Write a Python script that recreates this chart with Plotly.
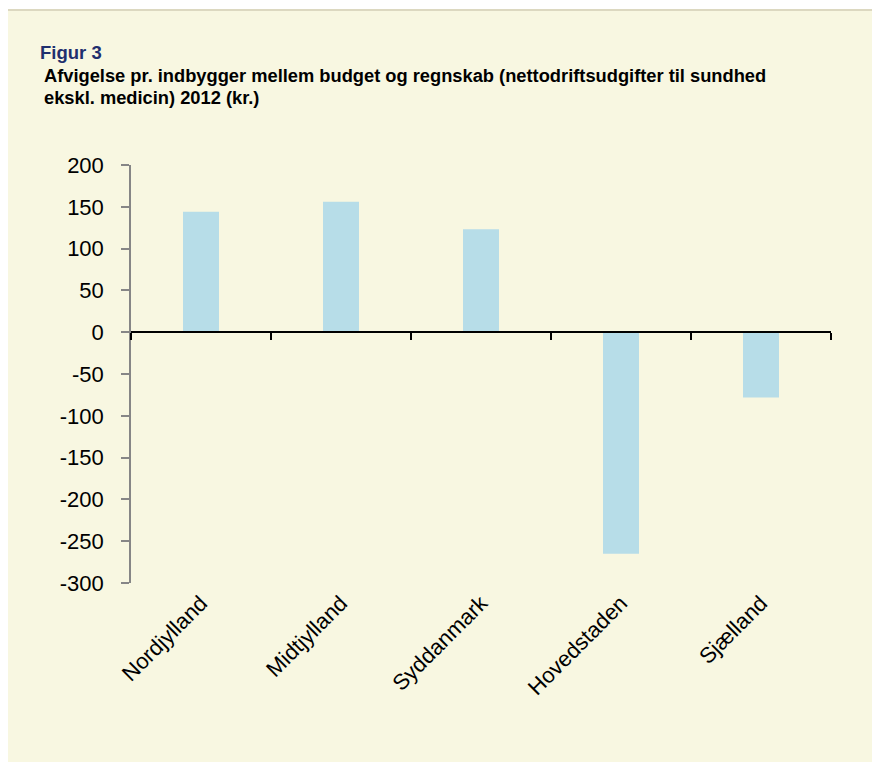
import plotly.graph_objects as go

categories = ["Nordjylland", "Midtjylland", "Syddanmark", "Hovedstaden", "Sjælland"]
values = [144, 156, 123, -265, -78]
y_ticks = [200, 150, 100, 50, 0, -50, -100, -150, -200, -250, -300]
y_ticktext = [str(v) for v in y_ticks]

FONT = "Arial, Liberation Sans, sans-serif"
CREAM = "#f8f7e1"
BAR = "#b7dde8"

# page is offset by the 8px body margin; all figure coords = page coords - 8
W, H = 872, 754
L, T = 123, 157
R = W - 823
B = H - 575
pw, ph = W - L - R, H - T - B

def px(x):
    return (x - L) / pw

def py(y):
    return (H - B - y) / ph

fig = go.Figure()
fig.add_trace(go.Bar(x=categories, y=values, marker=dict(color=BAR, line=dict(width=0)),
                     xaxis="x", yaxis="y", showlegend=False, hoverinfo="x+y"))
fig.add_trace(go.Scatter(x=categories, y=[0] * len(categories), mode="none",
                         xaxis="x2", yaxis="y", showlegend=False, hoverinfo="skip"))

fig.update_layout(
    width=W, height=H,
    margin=dict(l=L, r=R, t=T, b=B),
    paper_bgcolor=CREAM,
    plot_bgcolor="rgba(0,0,0,0)",
    bargap=0.743,
    font=dict(family=FONT, color="black"),
    xaxis=dict(type="category", categoryorder="array", categoryarray=categories,
               range=[-0.5, 4.5], showline=False, ticks="", showgrid=False,
               tickangle=-45, tickfont=dict(size=22, family=FONT, color="black"),
               anchor="y", ticklabelstandoff=2),
    xaxis2=dict(type="category", categoryorder="array", categoryarray=categories,
                range=[-0.5, 4.5], overlaying="x", anchor="free", position=0.6,
                side="bottom",
                showline=True, linecolor="black", linewidth=2,
                ticks="outside", tickson="boundaries", ticklen=7, tickcolor="black",
                tickwidth=2, showticklabels=False, showgrid=False),
    yaxis=dict(range=[-300, 200], tickvals=y_ticks, ticktext=y_ticktext,
               showgrid=False, zeroline=False,
               showline=True, linecolor="#868686", linewidth=1.5,
               ticks="outside", ticklen=8, tickcolor="#868686", tickwidth=1.5,
               ticklabelstandoff=13,
               tickfont=dict(size=22, family=FONT, color="black")),
    shapes=[
        dict(type="rect", xref="paper", yref="paper", layer="below",
             x0=px(-5), x1=px(890), y0=py(1.5), y1=py(-5),
             fillcolor="white", line=dict(width=0)),
        dict(type="line", xref="paper", yref="paper", layer="below",
             x0=px(-5), x1=px(890), y0=py(2), y1=py(2),
             line=dict(color="#dcd8c0", width=2)),
    ],
    annotations=[
        dict(text="<b>Figur 3</b>", xref="paper", yref="paper", x=px(30), y=py(45),
             xanchor="left", yanchor="middle", showarrow=False,
             font=dict(size=18.5, family=FONT, color="#1f2f6e")),
        dict(text="<b>Afvigelse pr. indbygger mellem budget og regnskab (nettodriftsudgifter til sundhed</b>",
             xref="paper", yref="paper", x=px(34), y=py(67),
             xanchor="left", yanchor="middle", showarrow=False,
             font=dict(size=18.3, family=FONT, color="black")),
        dict(text="<b>ekskl. medicin) 2012 (kr.)</b>",
             xref="paper", yref="paper", x=px(34), y=py(89),
             xanchor="left", yanchor="middle", showarrow=False,
             font=dict(size=18.3, family=FONT, color="black")),
    ],
)

fig.write_html("out.html")
